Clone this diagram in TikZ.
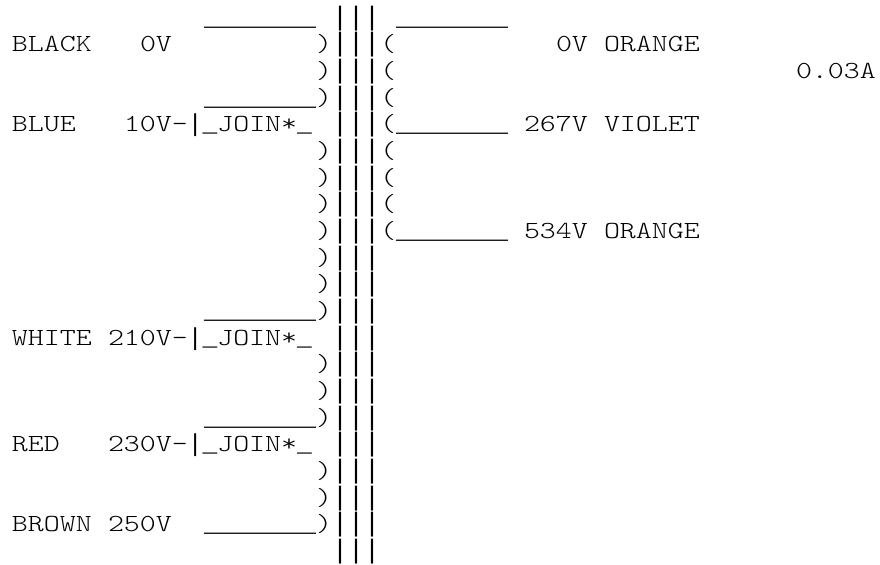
\documentclass[tikz,border=0pt]{standalone}
\usepackage{fontspec}
\setmonofont[FakeStretch=1.24]{Latin Modern Mono Light}
\newfontfamily\rulefont{Liberation Mono}
\newcommand{\wirerun}{{\rulefont\_\_\_\_\_\_\_}}
\newcommand{\tapjoin}{{\rulefont|\_}JOIN*{\rulefont\_}}
\tikzset{
  mono/.style={anchor=base west,inner sep=0pt,outer sep=0pt,font=\fontsize{18.4pt}{20pt}\selectfont\ttfamily},
  wire/.style={anchor=base west,inner sep=0pt,outer sep=0pt,font=\fontsize{20pt}{20pt}\selectfont\rulefont},
}
\begin{document}
\begin{tikzpicture}[x=12pt,y=-20pt]
    \useasboundingbox (-0.75,-0.9375) rectangle (54.25,20.2125);
    % core
    \foreach \r in {0,...,20} {
      \node[wire] (cA\r) at (20,\r) {|};
      \node[wire] (cB\r) at (21,\r) {|};
      \node[wire] (cC\r) at (22,\r) {|};
    }
    % primary
    \foreach \r in {1,2,3,5,6,7,8,9,10,11,13,14,15,17,18,19}
      \node[mono] (pri\r) at (19,\r) {)};
    \node[wire] (wtop) at (12,0) {\wirerun};
    \node[mono] (black) at (0,1) {BLACK};
    \node[mono] (blackv) at (8,1) {0V};
    \node[wire] (wblue) at (12,3) {\wirerun};
    \node[mono] (blue) at (0,4) {BLUE};
    \node[mono] (bluev) at (7,4) {10V-\tapjoin};
    \node[wire] (wwhite) at (12,11) {\wirerun};
    \node[mono] (white) at (0,12) {WHITE};
    \node[mono] (whitev) at (6,12) {210V-\tapjoin};
    \node[wire] (wred) at (12,15) {\wirerun};
    \node[mono] (red) at (0,16) {RED};
    \node[mono] (redv) at (6,16) {230V-\tapjoin};
    \node[mono] (brown) at (0,19) {BROWN};
    \node[mono] (brownv) at (6,19) {250V};
    \node[wire] (wbrown) at (12,19) {\wirerun};
    % secondary
    \foreach \r in {1,...,8}
      \node[mono] (sec\r) at (23,\r) {(};
    \node[wire] (stop) at (24,0) {\wirerun};
    \node[mono] (szero) at (34,1) {0V};
    \node[mono] (sorange) at (37,1) {ORANGE};
    \node[mono] (amps) at (49,2) {0.03A};
    \node[wire] (smid) at (24,4) {\wirerun};
    \node[mono] (smidv) at (32,4) {267V};
    \node[mono] (sviolet) at (37,4) {VIOLET};
    \node[wire] (send) at (24,8) {\wirerun};
    \node[mono] (sendv) at (32,8) {534V};
    \node[mono] (sorangeb) at (37,8) {ORANGE};
  \end{tikzpicture}
\end{document}
